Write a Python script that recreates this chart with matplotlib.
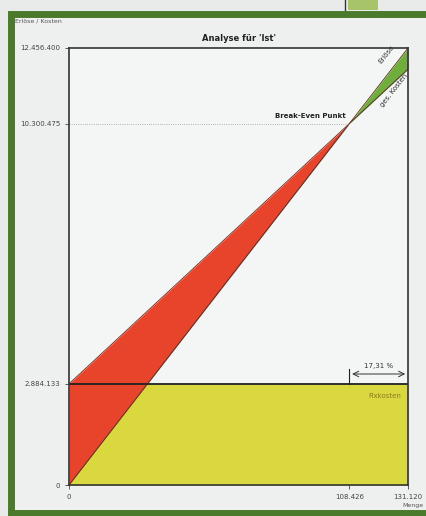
import matplotlib.pyplot as plt
import matplotlib.patches as patches
import numpy as np

# data
x_max = 131120
x_be = 108426
y_max = 12456400
fixkosten = 2884133
y_be = 10300475
sicherheit = "17,31 %"
x_ticks = [0, x_be, x_max]
x_labels = ["0", "108.426", "131.120"]
y_ticks = [0, fixkosten, y_be, y_max]
y_labels = ["0", "2.884.133", "10.300.475", "12.456.400"]

preis = y_max / x_max
var = (y_be - fixkosten) / x_be

x = np.linspace(0, x_max, 2000)
erloese = preis * x
kosten = fixkosten + var * x

fig = plt.figure(figsize=(4.26, 5.16), dpi=100)
fig.patch.set_facecolor("#e9eaea")

# green frame of the photo
fig.patches.append(patches.Rectangle((11/426, 3/516), 430/426, 499/516, transform=fig.transFigure,
                                     facecolor="#eef0f0", edgecolor="#4b7a2c", lw=5, zorder=-5))
fig.patches.append(patches.Rectangle((348/426, 506/516), 30/426, 10/516, transform=fig.transFigure,
                                     facecolor="#a8c468", edgecolor="none", zorder=-5))
fig.add_artist(plt.Line2D([345/426, 345/426], [506/516, 1], transform=fig.transFigure, color="#333333", lw=1, zorder=-5))

ax = fig.add_axes([69/426, 31/516, 339/426, 437/516])
ax.set_facecolor("#f4f5f5")

ax.fill_between(x, 0, np.minimum(erloese, fixkosten), color="#d9d83e", lw=0)
ax.fill_between(x, erloese, kosten, where=erloese <= kosten, color="#e8432b", lw=0)
ax.fill_between(x, kosten, erloese, where=erloese >= kosten, color="#6fae3c", lw=0)

ax.plot(x, erloese, color="#5a2a20", lw=0.6)
ax.plot(x, kosten, color="#5a2a20", lw=0.6)
ax.axhline(fixkosten, color="#222222", lw=1.3)
ax.plot([0, x_be], [y_be, y_be], color="#999999", lw=0.6, ls=":")

# safety margin
ax.plot([x_be, x_be], [fixkosten, fixkosten + 430000], color="#222222", lw=0.8)
ax.annotate("", xy=(x_max, fixkosten + 280000), xytext=(x_be, fixkosten + 280000),
            arrowprops=dict(arrowstyle="<->", color="#333333", lw=0.7))
ax.text((x_be + x_max) / 2, fixkosten + 420000, sicherheit, fontsize=5, ha="center", va="bottom", color="#333333")
ax.text(x_max - 2500, fixkosten - 250000, "Fixkosten", fontsize=5, ha="right", va="top", color="#8a7a22")

ax.text(x_be - 1500, y_be + 120000, "Break-Even Punkt", fontsize=5, fontweight="bold", ha="right", va="bottom", color="#222222")
ax.text(122600, 12286000, "Erlöse", fontsize=5, rotation=52, ha="center", va="center", color="#333333")
ax.text(125700, 11259000, "ges. Kosten", fontsize=5, rotation=52, ha="center", va="center", color="#333333")

ax.set_xlim(0, x_max)
ax.set_ylim(0, y_max)
ax.set_xticks(x_ticks)
ax.set_xticklabels(x_labels)
ax.set_yticks(y_ticks)
ax.set_yticklabels(y_labels)
ax.tick_params(labelsize=5, colors="#444444", length=3, width=0.6)
for s in ax.spines.values():
    s.set_color("#333333")
    s.set_linewidth(1.2)

ax.set_title("Analyse für 'Ist'", fontsize=6, fontweight="bold", color="#222222", pad=5)
fig.text(15/426, 1 - 21/516, "Erlöse / Kosten", fontsize=4.5, color="#555555", va="center")
fig.text(413/426, 1 - 505/516, "Menge", fontsize=4.5, color="#555555", ha="center", va="center")

fig.savefig("out.png", dpi=100, facecolor=fig.get_facecolor())
